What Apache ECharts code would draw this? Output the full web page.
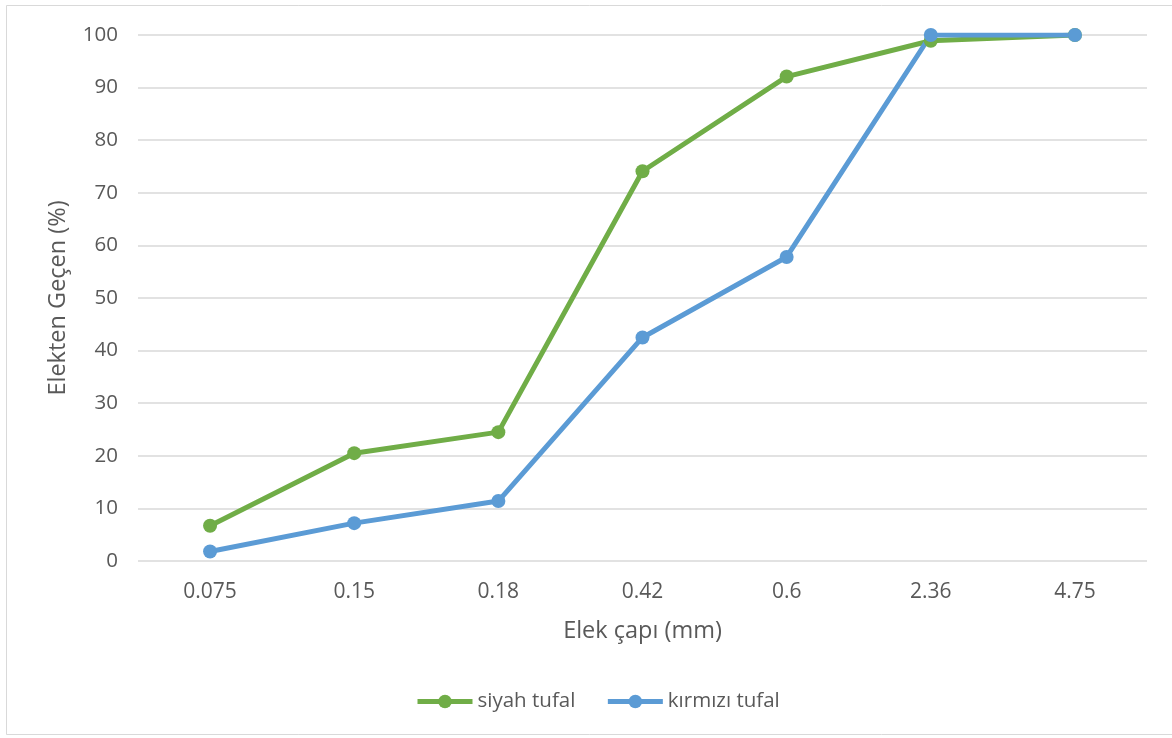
<!DOCTYPE html>
<html>
<head>
<meta charset="utf-8">
<script src="https://cdn.jsdelivr.net/npm/echarts@6/dist/echarts.min.js"></script>
<style>
  html, body { margin: 0; padding: 0; background: #ffffff; }
  #chart { width: 1172px; height: 738px; }
</style>
</head>
<body>
<div id="chart"></div>
<script>
// Sieve sizes (mm) and percentage passing for the two tuff samples
const sieveSizes = ['0.075', '0.15', '0.18', '0.42', '0.6', '2.36', '4.75'];
const siyahTufal = [6.7, 20.5, 24.5, 74.1, 92.1, 98.9, 100];
const kirmiziTufal = [1.8, 7.2, 11.4, 42.5, 57.8, 100, 100];
const seriesNames = ['siyah tufal', 'kırmızı tufal'];

const FONT = '"Open Sans", "Noto Sans", sans-serif';
const TEXT = '#595959';

const chart = echarts.init(document.getElementById('chart'), null, { renderer: 'canvas' });

function lineSeries(name, data, color) {
  return {
    name: name,
    type: 'line',
    data: data,
    symbol: 'circle',
    symbolSize: 14,
    lineStyle: { width: 5, color: color },
    itemStyle: { color: color },
    emphasis: { disabled: true },
    animation: false
  };
}

chart.setOption({
  backgroundColor: '#ffffff',
  animation: false,
  graphic: [{
    type: 'rect',
    shape: { x: 6.5, y: 5.5, width: 1180, height: 729 },
    style: { fill: 'none', stroke: '#d9d9d9', lineWidth: 1 },
    silent: true,
    z: -1
  }],
  grid: { left: 138, right: 25, top: 35, bottom: 177 },
  legend: {
    bottom: 26,
    left: 415,
    padding: 0,
    itemWidth: 55,
    itemHeight: 17,
    itemGap: 30,
    lineStyle: { width: 5 },
    textStyle: { fontFamily: FONT, fontSize: 20.5, color: TEXT },
    data: seriesNames
  },
  xAxis: {
    type: 'category',
    data: sieveSizes,
    boundaryGap: true,
    name: 'Elek çapı (mm)',
    nameLocation: 'middle',
    nameGap: 58,
    nameTextStyle: { fontFamily: FONT, fontSize: 23.5, color: TEXT },
    axisLine: { show: false },
    axisTick: { show: false },
    axisLabel: { margin: 21, fontFamily: FONT, fontSize: 21, color: TEXT }
  },
  yAxis: {
    type: 'value',
    min: 0,
    max: 100,
    interval: 10,
    name: 'Elekten Geçen (%)',
    nameLocation: 'middle',
    nameGap: 68,
    nameTextStyle: { fontFamily: FONT, fontSize: 23.5, color: TEXT },
    axisLine: { show: false },
    axisTick: { show: false },
    axisLabel: { margin: 20, fontFamily: FONT, fontSize: 20.5, color: TEXT },
    splitLine: { lineStyle: { color: '#d9d9d9', width: 1.5 } }
  },
  series: [
    lineSeries(seriesNames[0], siyahTufal, '#70ad47'),
    lineSeries(seriesNames[1], kirmiziTufal, '#5b9bd5')
  ]
});
</script>
</body>
</html>
